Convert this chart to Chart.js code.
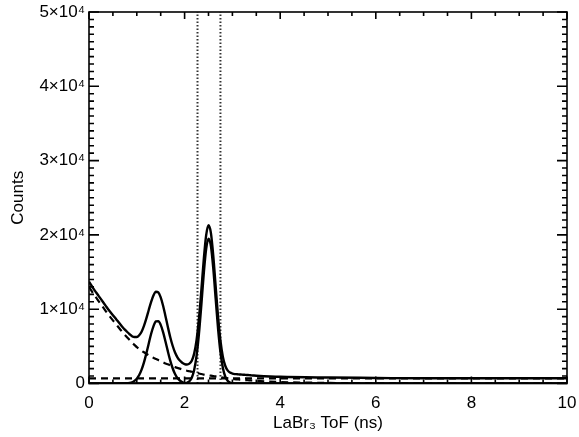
<!DOCTYPE html>
<html>
<head>
<meta charset="utf-8">
<script src="https://cdn.jsdelivr.net/npm/chart.js@4.4.1/dist/chart.umd.min.js"></script>
<style>
  body { margin: 0; background: #fff; }
  #wrap { width: 579px; height: 437px; }
</style>
</head>
<body>
<div id="wrap"><canvas id="tofChart"></canvas></div>
<script>
// Eje de tiempo para la curva total y el fondo exponencial (ns)
const timeNs = [0, 0.05, 0.1, 0.15, 0.2, 0.25, 0.3, 0.35, 0.4, 0.45, 0.5, 0.55, 0.6, 0.65, 0.7, 0.75,
  0.8, 0.85, 0.9, 0.95, 1.0, 1.05, 1.1, 1.15, 1.2, 1.25, 1.3, 1.35, 1.4, 1.45, 1.5, 1.55, 1.6, 1.65,
  1.7, 1.75, 1.8, 1.85, 1.9, 1.95, 2.0, 2.05, 2.1, 2.15, 2.2, 2.25, 2.3, 2.35, 2.4, 2.45, 2.5, 2.55,
  2.6, 2.65, 2.7, 2.75, 2.8, 2.85, 2.9, 2.95, 3.0, 3.05, 3.1, 3.15, 3.2, 3.25, 3.3, 3.35, 3.4, 3.45,
  3.5, 4, 5, 6, 7, 8, 9, 10];

// Ajuste total (linea continua)
const totalCounts = [13700, 13200, 12700, 12250, 11800, 11350, 10900, 10450, 10000, 9600, 9200, 8800,
  8400, 8000, 7600, 7250, 6930, 6630, 6370, 6250, 6250, 6490, 6970, 7750, 8760, 9890, 10990, 11880,
  12350, 12250, 11590, 10470, 9060, 7600, 6230, 5080, 4170, 3530, 3100, 2800, 2620, 2560, 2670, 3060,
  4020, 5840, 8730, 12540, 16620, 19900, 21290, 20270, 17190, 13060, 8990, 5770, 3620, 2390, 1760,
  1470, 1340, 1270, 1250, 1220, 1200, 1170, 1150, 1120, 1100, 1070, 1050, 900, 800, 750, 700, 700,
  700, 700];

// Fondo exponencial (linea discontinua)
const expCounts = [13000, 12500, 12000, 11550, 11100, 10650, 10200, 9750, 9300, 8900, 8500, 8100,
  7700, 7300, 6900, 6550, 6200, 5850, 5500, 5200, 4900, 4650, 4400, 4200, 4000, 3800, 3600, 3450,
  3300, 3150, 3000, 2850, 2700, 2580, 2450, 2330, 2200, 2100, 2000, 1900, 1800, 1720, 1650, 1580,
  1500, 1430, 1350, 1280, 1200, 1150, 1100, 1050, 1000, 950, 900, 850, 800, 750, 700, 650, 600, 570,
  550, 520, 500, 470, 450, 420, 400, 370, 350, 200, 80, 30, 0, 0, 0, 0];

// Fondo constante (linea discontinua)
const flatTime = [0, 10];
const flatCounts = [700, 700];

// Primer pico (gamma)
const peak1Time = [0, 0.8, 0.85, 0.9, 0.95, 1.0, 1.05, 1.1, 1.15, 1.2, 1.25, 1.3, 1.35, 1.4, 1.45,
  1.5, 1.55, 1.6, 1.65, 1.7, 1.75, 1.8, 1.85, 1.9, 1.95, 2.0, 2.05, 2.1, 2.15, 10];
const peak1Counts = [0, 30, 80, 170, 350, 650, 1140, 1870, 2850, 4060, 5390, 6690, 7730, 8350, 8400,
  7890, 6920, 5660, 4320, 3080, 2050, 1270, 730, 400, 200, 90, 40, 20, 0, 0];

// Segundo pico
const peak2Time = [0, 2.0, 2.05, 2.1, 2.15, 2.2, 2.25, 2.3, 2.35, 2.4, 2.45, 2.5, 2.55, 2.6, 2.65,
  2.7, 2.75, 2.8, 2.85, 2.9, 2.95, 3.0, 3.05, 10];
const peak2Counts = [0, 30, 100, 300, 780, 1820, 3710, 6680, 10560, 14720, 18050, 19490, 18520, 15490,
  11410, 7390, 4220, 2120, 940, 360, 120, 40, 0, 0];

// Ventana de corte (lineas punteadas verticales)
const cutTimes = [2.27, 2.75];

const yMax = 50000;
const fontName = "'Liberation Sans', Arial, sans-serif";

function toPoints(xs, ys) {
  return xs.map((x, i) => ({ x: x, y: ys[i] }));
}

// Marco y marcas hacia dentro, estilo IDL
const frameTicks = {
  id: 'frameTicks',
  afterDraw(chart) {
    const { ctx, chartArea: a, scales: { x, y } } = chart;
    ctx.save();
    ctx.strokeStyle = '#000';
    ctx.lineWidth = 1.6;
    ctx.strokeRect(a.left, a.top, a.right - a.left, a.bottom - a.top);
    ctx.beginPath();
    for (let i = 0; i <= 20; i++) {
      const px = x.getPixelForValue(i * 0.5);
      const len = i % 4 === 0 ? 7 : 4;
      ctx.moveTo(px, a.bottom); ctx.lineTo(px, a.bottom - len);
      ctx.moveTo(px, a.top); ctx.lineTo(px, a.top + len);
    }
    for (let i = 0; i <= 50; i++) {
      const py = y.getPixelForValue(i * 1000);
      const len = i % 10 === 0 ? 10 : 5;
      ctx.moveTo(a.left, py); ctx.lineTo(a.left + len, py);
      ctx.moveTo(a.right, py); ctx.lineTo(a.right - len, py);
    }
    ctx.stroke();
    ctx.restore();
  }
};

const solid = { borderColor: '#000', borderWidth: 2.4, pointRadius: 0, fill: false, cubicInterpolationMode: 'monotone' };
const dashed = Object.assign({}, solid, { borderWidth: 2.2, borderDash: [7, 5] });

const datasets = [
  Object.assign({ label: 'total', data: toPoints(timeNs, totalCounts) }, solid),
  Object.assign({ label: 'pico 1', data: toPoints(peak1Time, peak1Counts) }, solid),
  Object.assign({ label: 'pico 2', data: toPoints(peak2Time, peak2Counts) }, solid),
  Object.assign({ label: 'exponencial', data: toPoints(timeNs, expCounts) }, dashed),
  Object.assign({ label: 'constante', data: toPoints(flatTime, flatCounts) }, dashed)
];
cutTimes.forEach(t => {
  datasets.push({
    label: 'corte', data: [{ x: t, y: 0 }, { x: t, y: yMax }],
    borderColor: '#333', borderWidth: 2, borderDash: [1.5, 2], pointRadius: 0, fill: false
  });
});

new Chart(document.getElementById('tofChart'), {
  type: 'line',
  data: { datasets: datasets },
  plugins: [frameTicks],
  options: {
    responsive: true,
    maintainAspectRatio: false,
    devicePixelRatio: 1,
    animation: false,
    layout: { padding: { top: 12, right: 12, left: 0, bottom: 0 } },
    plugins: { legend: { display: false }, tooltip: { enabled: false } },
    scales: {
      x: {
        type: 'linear', min: 0, max: 10,
        grid: { display: false, drawTicks: false },
        border: { display: false },
        ticks: { stepSize: 2, color: '#000', font: { family: fontName, size: 17 }, padding: 10, maxRotation: 0 },
        title: { display: true, text: 'LaBr₃ ToF (ns)', color: '#000', font: { family: fontName, size: 17 }, padding: { top: 0, bottom: 3 } },
        afterFit(s) { s.height = 53.5; s.paddingLeft = 0; s.paddingRight = 0; }
      },
      y: {
        min: 0, max: yMax,
        grid: { display: false, drawTicks: false },
        border: { display: false },
        ticks: {
          stepSize: 10000, color: '#000', font: { family: fontName, size: 17 }, padding: 4,
          callback: v => v === 0 ? '0' : (v / 10000) + '×10⁴'
        },
        title: { display: true, text: 'Counts', color: '#000', font: { family: fontName, size: 17 }, padding: { top: 8, bottom: 0 } },
        afterFit(s) { s.width = 89; s.paddingTop = 0; s.paddingBottom = 0; }
      }
    }
  }
});
</script>
</body>
</html>
